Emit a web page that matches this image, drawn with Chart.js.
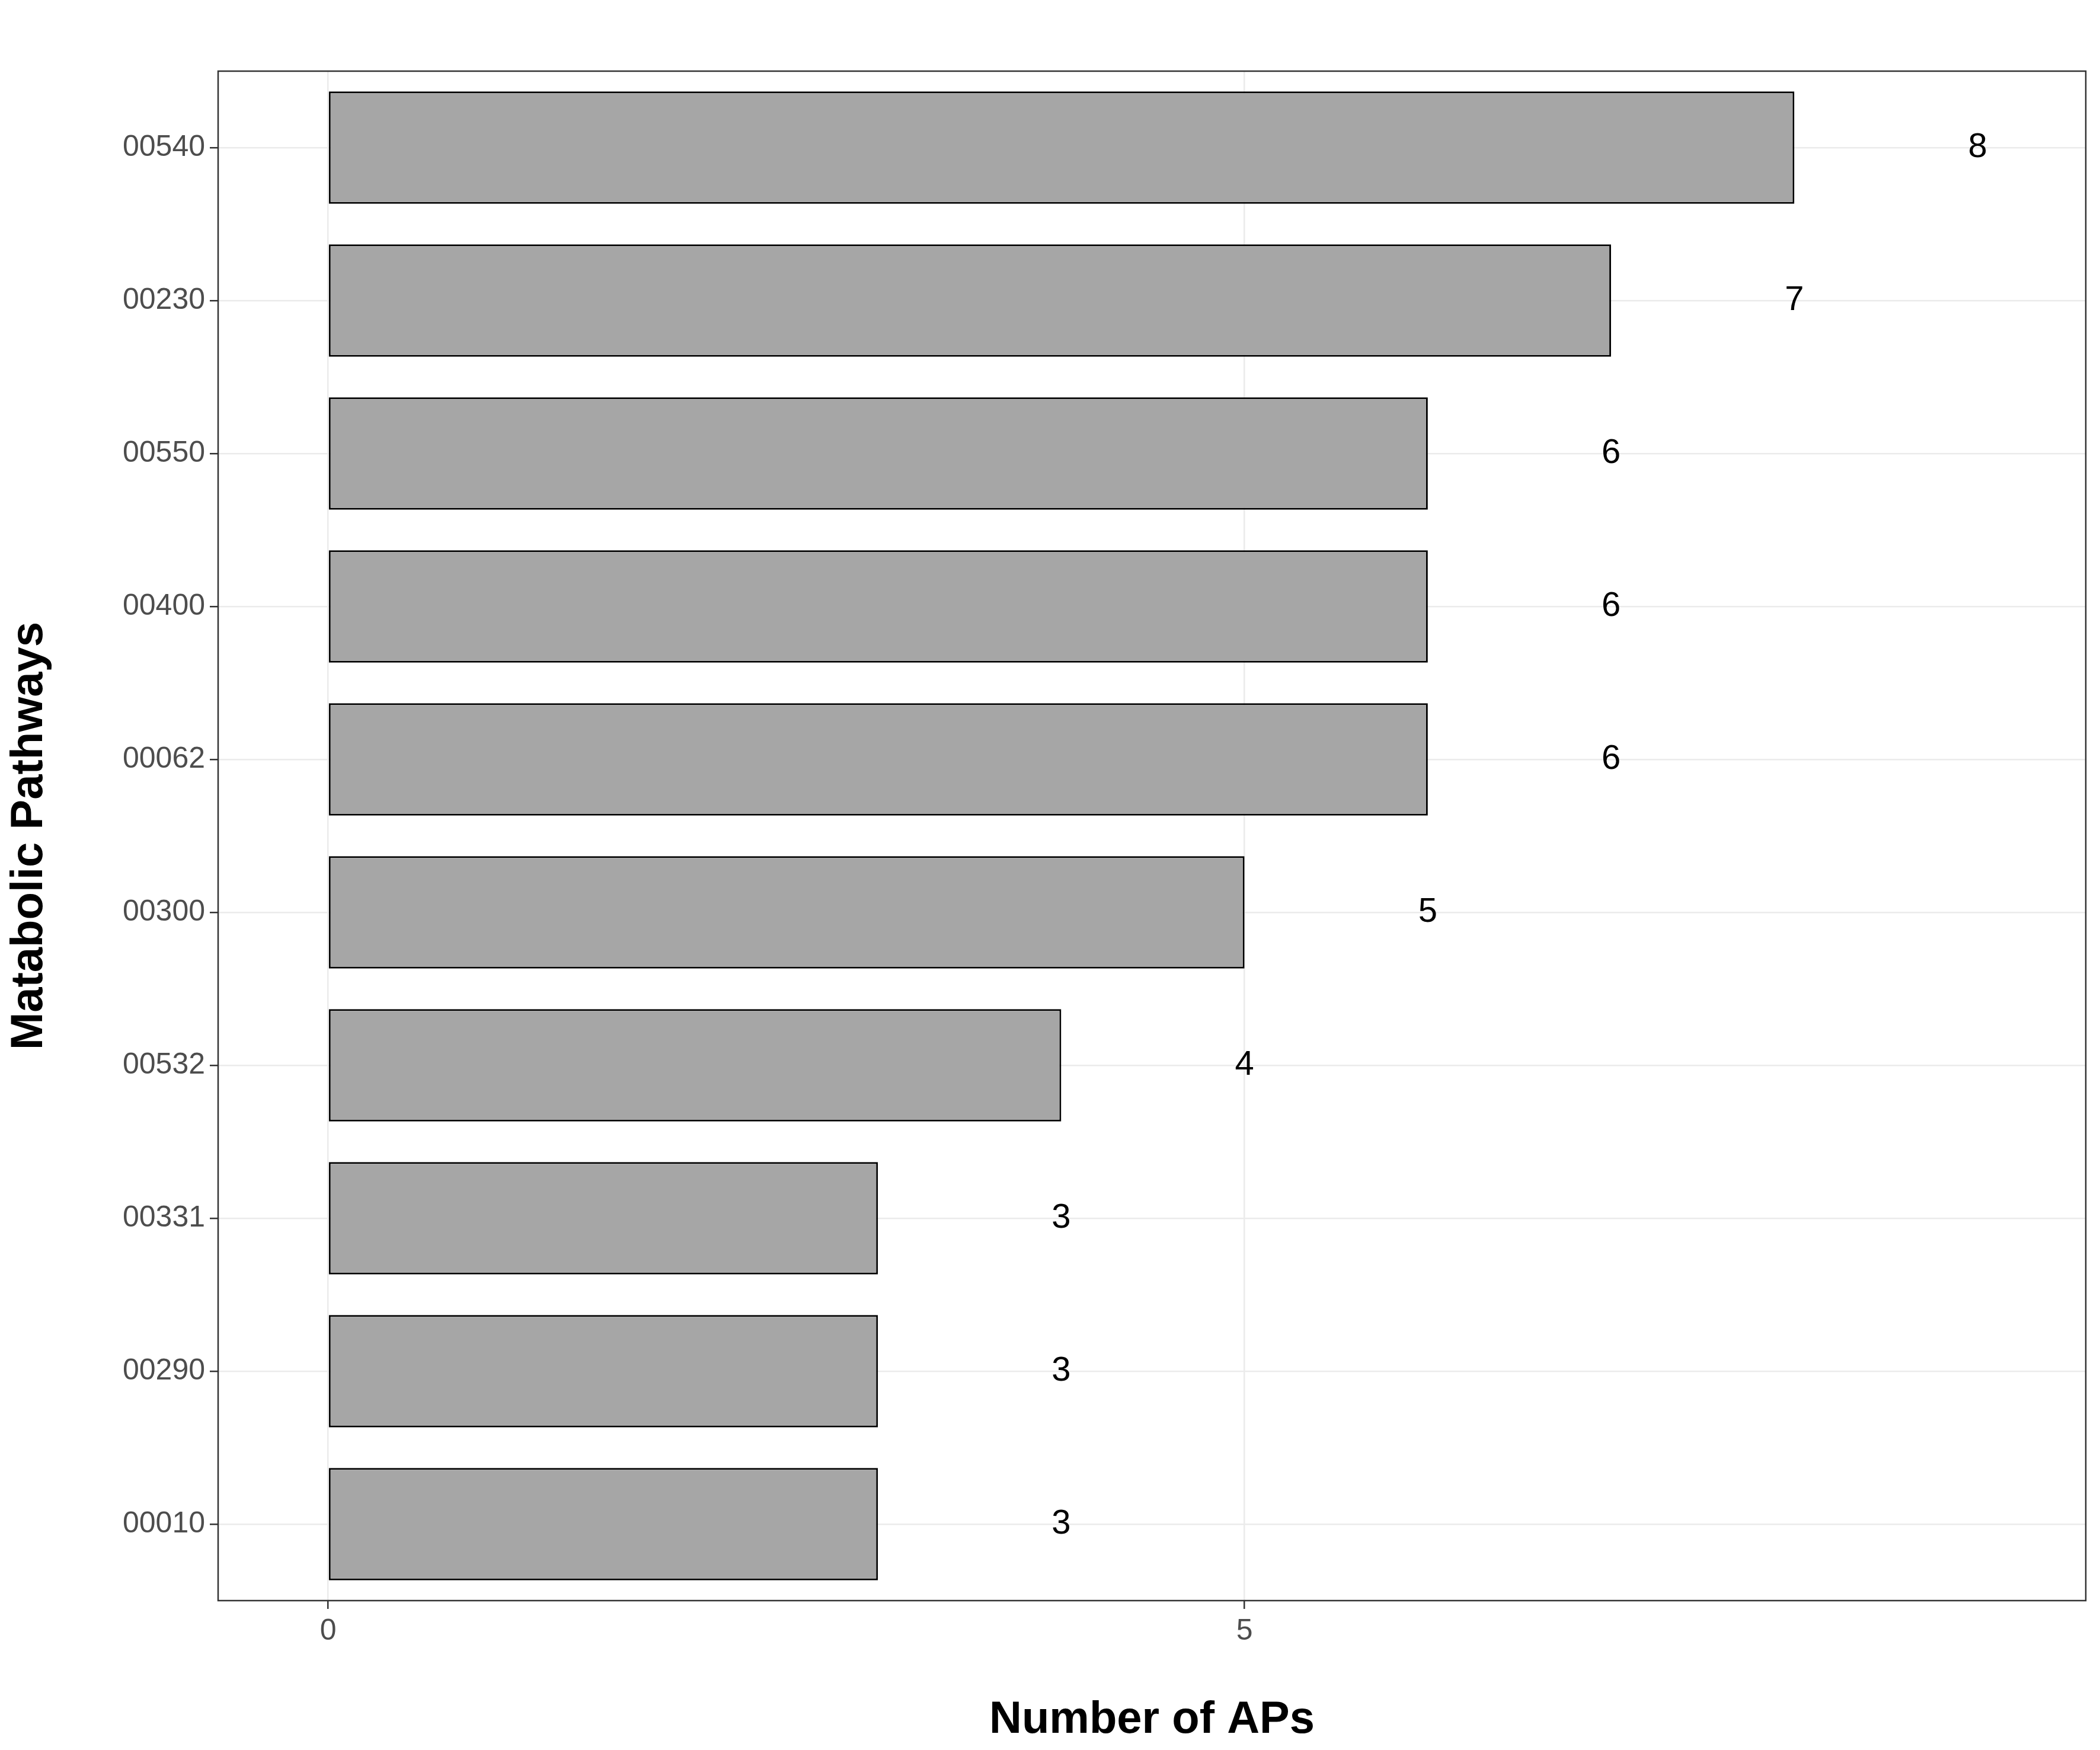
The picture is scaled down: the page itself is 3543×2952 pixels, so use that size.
<!DOCTYPE html>
<html>
<head>
<meta charset="utf-8">
<script src="https://cdn.jsdelivr.net/npm/chart.js@4.4.1/dist/chart.umd.min.js"></script>
<style>
  html, body { margin: 0; padding: 0; background: #fff; }
  #wrap { width: 3543px; height: 2952px; }
</style>
</head>
<body>
<div id="wrap"><canvas id="c"></canvas></div>
<script>
// pathway ids, top to bottom
const pathways = ['00540', '00230', '00550', '00400', '00062', '00300', '00532', '00331', '00290', '00010'];
const apCounts = [8, 7, 6, 6, 6, 5, 4, 3, 3, 3];
const xTicks = [0, 5];

// value labels drawn one unit right of each bar end
const valueLabels = {
    id: 'valueLabels',
    afterDatasetsDraw(chart) {
        const ctx = chart.ctx;
        const xs = chart.scales.x, ys = chart.scales.y;
        ctx.save();
        ctx.fillStyle = '#000';
        ctx.font = '58px "Liberation Sans", Arial, sans-serif';
        ctx.textAlign = 'center';
        ctx.textBaseline = 'middle';
        apCounts.forEach((v, i) => {
            ctx.fillText(String(v), xs.getPixelForValue(v + 1), ys.getPixelForValue(i));
        });
        ctx.restore();
    }
};

// full panel border like theme_bw
const panelBorder = {
    id: 'panelBorder',
    afterDraw(chart) {
        const a = chart.chartArea, ctx = chart.ctx;
        ctx.save();
        ctx.strokeStyle = '#333';
        ctx.lineWidth = 2.5;
        ctx.strokeRect(a.left, a.top, a.right - a.left, a.bottom - a.top);
        ctx.restore();
    }
};

new Chart(document.getElementById('c'), {
    type: 'bar',
    data: {
        labels: pathways,
        datasets: [{
            data: apCounts,
            backgroundColor: '#a6a6a6',
            borderColor: '#000',
            borderWidth: 3,
            borderSkipped: false,
            categoryPercentage: 1,
            barPercentage: 0.735
        }]
    },
    options: {
        indexAxis: 'y',
        responsive: true,
        maintainAspectRatio: false,
        animation: false,
        devicePixelRatio: 1,
        layout: { padding: { top: 120, right: 24, left: 0, bottom: 0 } },
        plugins: { legend: { display: false }, tooltip: { enabled: false } },
        scales: {
            x: {
                type: 'linear',
                min: -0.6,
                max: 9.59,
                afterBuildTicks: s => { s.ticks = xTicks.map(v => ({ value: v })); },
                afterFit: s => { s.height = 252; },
                grid: { color: '#ebebeb', lineWidth: 2.5, tickColor: '#333', tickLength: 14 },
                border: { display: false },
                ticks: { color: '#4d4d4d', font: { size: 50, family: '"Liberation Sans", Arial' }, padding: 8 },
                title: {
                    display: true, text: 'Number of APs', color: '#000',
                    font: { size: 76, weight: 'bold', family: '"Liberation Sans", Arial' },
                    padding: { top: 30 }
                }
            },
            y: {
                type: 'category',
                offset: true,
                afterFit: s => { s.width = 368; },
                grid: { color: '#ebebeb', lineWidth: 2.5, tickColor: '#333', tickLength: 14, offset: false },
                border: { display: false },
                ticks: { color: '#4d4d4d', font: { size: 50, family: '"Liberation Sans", Arial' }, padding: 8 },
                title: {
                    display: true, text: 'Matabolic Pathways', color: '#000',
                    font: { size: 76, weight: 'bold', family: '"Liberation Sans", Arial' },
                    padding: { bottom: 40 }
                }
            }
        }
    },
    plugins: [valueLabels, panelBorder]
});
</script>
</body>
</html>
